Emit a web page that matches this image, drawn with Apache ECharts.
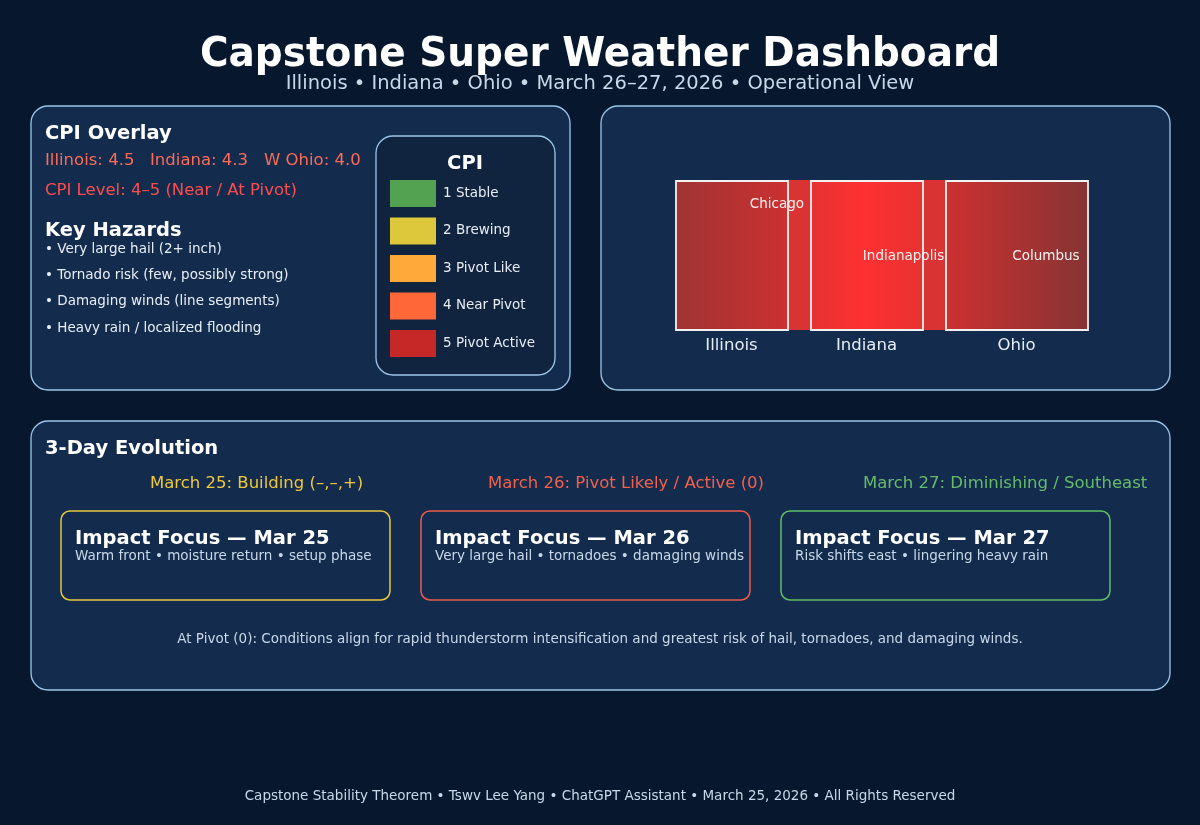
<!DOCTYPE html>
<html><head><meta charset="utf-8">
<style>html,body{margin:0;padding:0;background:#07182f}#c{width:1200px;height:825px}</style>
<script src="https://cdn.jsdelivr.net/npm/echarts@6/dist/echarts.min.js"></script>
</head><body><div id="c"></div>
<script>
const stateNames=['Illinois','Indiana','Ohio'];
const stateStart=[0,135,270];
const stateEnd=[112,247,412];
const cityNames=['Chicago','Indianapolis','Columbus'];
const cityX=[101,227.5,370];
const cityY=[126,74,74];
const cpiValues=['Illinois: 4.5','Indiana: 4.3','W Ohio: 4.0'];
const legendLabels=['1 Stable','2 Brewing','3 Pivot Like','4 Near Pivot','5 Pivot Active'];
const legendColors=['#52a252','#dcc83a','#ffa93a','#ff6638','#c62828'];
const hazards=['• Very large hail (2+ inch)','• Tornado risk (few, possibly strong)','• Damaging winds (line segments)','• Heavy rain / localized flooding'];
const dayHeads=['March 25: Building (–,–,+)','March 26: Pivot Likely / Active (0)','March 27: Diminishing / Southeast'];
const focusTitles=['Impact Focus — Mar 25','Impact Focus — Mar 26','Impact Focus — Mar 27'];
const focusTexts=['Warm front • moisture return • setup phase','Very large hail • tornadoes • damaging winds','Risk shifts east • lingering heavy rain'];

const FONT='"DejaVu Sans"';
const chart=echarts.init(document.getElementById('c'),null,{renderer:'canvas'});
const dayColors=['#f0c83c','#f4604c','#66bb6a'];
const dayStroke=['#e8c53c','#ee5a4c','#62bd66'];
const g=[];
function box(x,y,w,h,r,fill,stroke,lw){g.push({type:'rect',silent:true,shape:{x:x,y:y,width:w,height:h,r:r},style:{fill:fill,stroke:stroke,lineWidth:lw||0}});}
function txt(t,x,y,size,color,weight,align){
  const b=weight==='bold',k=b?0.975:1;
  g.push({type:'text',silent:true,x:x,y:y,scaleX:k,style:{text:t,fill:color,font:(weight||'normal')+' '+(size/k)+'px '+FONT,textAlign:align||'left',textVerticalAlign:'middle'}});
}
const PANEL='#132c4e',EDGE='#9cc6e8';
box(31,106,539,284,17,PANEL,EDGE,1.3);
box(601,106,569,284,17,PANEL,EDGE,1.3);
box(31,421,1139,269,17,PANEL,EDGE,1.3);
box(376,136,179,239,17,'#10233f',EDGE,1.3);

txt('Capstone Super Weather Dashboard',600,55.5,39,'#ffffff','bold','center');
txt('Illinois • Indiana • Ohio • March 26–27, 2026 • Operational View',600,84,19.5,'#c9d8e8','normal','center');

txt('CPI Overlay',45,134,19.5,'#ffffff','bold');
[45,150,264].forEach((x,i)=>txt(cpiValues[i],x,161,16.5,'#ff6b57'));
txt('CPI Level: 4–5 (Near / At Pivot)',45,191,16.5,'#ff4d4d');
txt('Key Hazards',45,231,19.5,'#ffffff','bold');
hazards.forEach((h,i)=>txt(h,45,249+i*26.4,13.5,'#e8eef5'));

txt('CPI',465,163.5,19.5,'#ffffff','bold','center');
legendLabels.forEach((l,i)=>{
  const y=180+i*37.5;
  box(390,y,46,27,0,legendColors[i]);
  txt(l,443,y+13,13.5,'#e8eef5');
});

txt('3-Day Evolution',45,449,19.5,'#ffffff','bold');
[150,488,863].forEach((x,i)=>txt(dayHeads[i],x,484,16.5,dayColors[i]));
[61,421,781].forEach((x,i)=>{
  box(x,511,329,89,9,PANEL,dayStroke[i],1.5);
  txt(focusTitles[i],x+14,539,19.5,'#ffffff','bold');
  txt(focusTexts[i],x+14,556.5,13.5,'#c9d8e8');
});
txt('At Pivot (0): Conditions align for rapid thunderstorm intensification and greatest risk of hail, tornadoes, and damaging winds.',600,639,13.5,'#c9d8e8','normal','center');
txt('Capstone Stability Theorem • Tswv Lee Yang • ChatGPT Assistant • March 25, 2026 • All Rights Reserved',600,796.5,13.5,'#c9d8e8','normal','center');

const stops=[{offset:0,color:'#a03434'},{offset:.27,color:'#cc3030'},{offset:.33,color:'#e63232'},{offset:.46,color:'#ff3030'},{offset:.6,color:'#e63232'},{offset:.66,color:'#cc3030'},{offset:1,color:'#863434'}];

chart.setOption({
  animation:false,
  backgroundColor:'#07182e',
  graphic:{elements:g},
  grid:{left:676,top:181,width:412,height:149,containLabel:false},
  xAxis:{type:'value',min:0,max:412,show:false},
  yAxis:{type:'value',min:0,max:149,show:false},
  tooltip:{show:false},
  series:[
   {type:'custom',silent:true,coordinateSystem:'cartesian2d',data:[[0,412]],z:2,
    encode:{x:[0,1]},
    renderItem:(p,api)=>{
      const a=api.coord([api.value(0),149]),b=api.coord([api.value(1),0]);
      return {type:'rect',shape:{x:a[0],y:a[1]-1,width:b[0]-a[0],height:b[1]-a[1]+1},style:{fill:'#d93333'}};
    }},
   {type:'custom',silent:true,coordinateSystem:'cartesian2d',z:3,
    data:stateNames.map((n,i)=>[stateStart[i],stateEnd[i]]),
    encode:{x:[0,1]},
    renderItem:(p,api)=>{
      const a=api.coord([api.value(0),149]),b=api.coord([api.value(1),0]);
      const L=api.coord([0,0])[0],R=api.coord([412,0])[0];
      return {type:'group',children:[
        {type:'rect',shape:{x:a[0],y:a[1],width:b[0]-a[0],height:b[1]-a[1]},
         style:{fill:new echarts.graphic.LinearGradient(L,0,R,0,stops,true),stroke:'#f2f2f2',lineWidth:1.8}},
        {type:'text',x:(a[0]+b[0])/2-0.5,y:b[1]+16,style:{text:stateNames[p.dataIndex],fill:'#e8eef5',font:'16.5px '+FONT,textAlign:'center',textVerticalAlign:'middle'}}
      ]};
    }},
   {type:'custom',silent:true,coordinateSystem:'cartesian2d',z:4,
    data:cityNames.map((n,i)=>[cityX[i],cityY[i]]),
    encode:{x:0,y:1},
    renderItem:(p,api)=>{
      const a=api.coord([api.value(0),api.value(1)]);
      return {type:'text',x:a[0],y:a[1],style:{text:cityNames[p.dataIndex],fill:'#f4f4f4',font:'13.5px '+FONT,textAlign:'center',textVerticalAlign:'middle'}};
    }}
  ]
});
</script></body></html>
